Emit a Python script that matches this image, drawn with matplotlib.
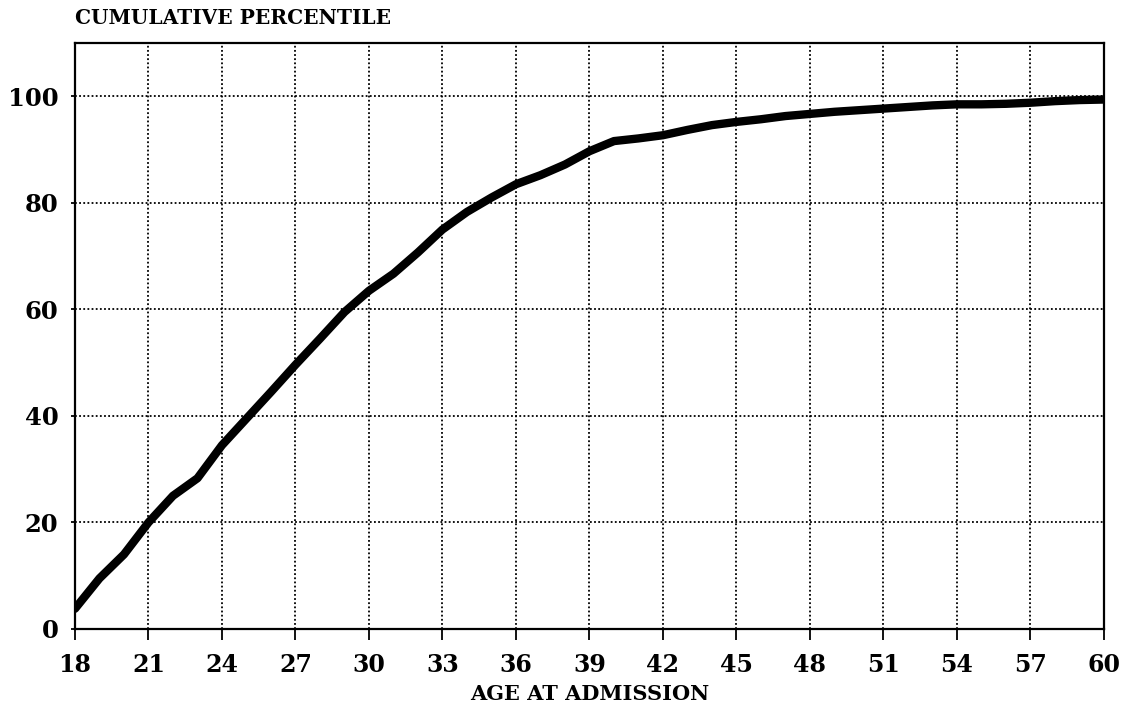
import matplotlib
matplotlib.use("Agg")
import matplotlib.pyplot as plt

ages = [18, 19, 20, 21, 22, 23, 24, 25, 26, 27, 28, 29, 30, 31, 32, 33, 34, 35, 36, 37, 38, 39,
        40, 41, 42, 43, 44, 45, 46, 47, 48, 49, 50, 51, 52, 53, 54, 55, 56, 57, 58, 59, 60]
percentile = [3.8, 9.5, 14.0, 20.0, 25.0, 28.3, 34.5, 39.5, 44.5, 49.6, 54.5, 59.5, 63.5, 66.7,
              70.7, 75.0, 78.3, 81.0, 83.5, 85.2, 87.2, 89.7, 91.6, 92.1, 92.7, 93.7, 94.6, 95.2,
              95.7, 96.3, 96.7, 97.1, 97.4, 97.7, 98.0, 98.3, 98.5, 98.5, 98.6, 98.8, 99.1, 99.3, 99.4]
x_ticks = [18, 21, 24, 27, 30, 33, 36, 39, 42, 45, 48, 51, 54, 57, 60]
y_ticks = [0, 20, 40, 60, 80, 100]

fig = plt.figure(figsize=(11.24, 7.18), dpi=100)
ax = fig.add_axes([0.0667, 0.124, 0.9155, 0.816])

ax.plot(ages, percentile, color="black", linewidth=6, solid_capstyle="round", solid_joinstyle="round", zorder=3)

ax.set_xlim(18, 60)
ax.set_ylim(0, 110)
ax.set_xticks(x_ticks)
ax.set_yticks(y_ticks)
ax.grid(True, color="black", linestyle=(0, (1, 1.3)), linewidth=1.3)
ax.set_axisbelow(True)

for s in ax.spines.values():
    s.set_linewidth(1.6)
    s.set_color("black")

font = {"family": "DejaVu Serif", "weight": "bold"}
ax.tick_params(axis="x", direction="out", length=8, width=1.3, pad=9, labelsize=17)
ax.tick_params(axis="y", direction="out", length=3, width=1.3, pad=9, labelsize=17.5)
for lab in ax.get_xticklabels() + ax.get_yticklabels():
    lab.set_family("DejaVu Serif")
    lab.set_weight("bold")

ax.set_xlabel("AGE AT ADMISSION", fontdict=font, fontsize=15, labelpad=5)
fig.text(0.0667, 0.975, "CUMULATIVE PERCENTILE", fontdict=font, fontsize=14.5, ha="left", va="center")

fig.savefig("out.png", dpi=100)
